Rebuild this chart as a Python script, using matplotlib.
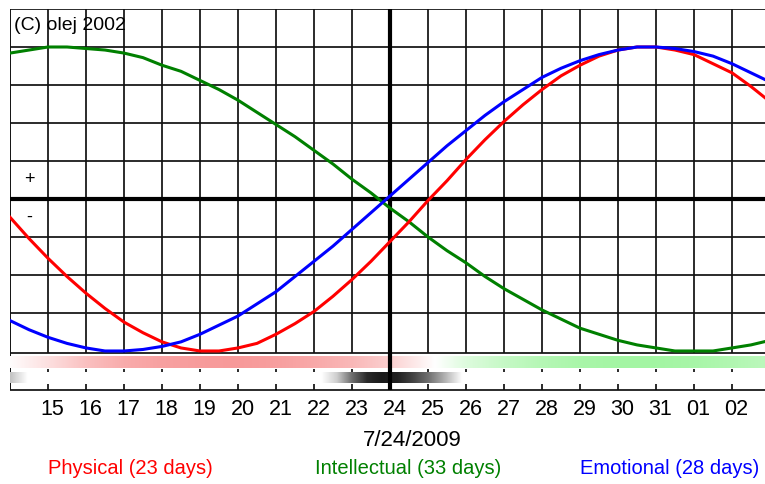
import numpy as np
import matplotlib.pyplot as plt

# day numbers with a grid line (july 14 .. aug 3)
grid_days = list(range(14, 35))
day_labels = ["15", "16", "17", "18", "19", "20", "21", "22", "23", "24",
              "25", "26", "27", "28", "29", "30", "31", "01", "02"]

# curve values every half day, 14.0 .. 34.0
t = np.arange(14, 34.5, 0.5)
physical = [-0.12, -0.26, -0.39, -0.51, -0.62, -0.72, -0.81, -0.88, -0.94, -0.98,
            -1.00, -1.00, -0.98, -0.95, -0.89, -0.82, -0.74, -0.64, -0.53, -0.41,
            -0.28, -0.15, -0.01, 0.12, 0.26, 0.39, 0.51, 0.62, 0.72, 0.81,
            0.88, 0.94, 0.98, 1.00, 1.00, 0.98, 0.95, 0.89, 0.83, 0.74, 0.64]
intellectual = [0.96, 0.98, 1.00, 1.00, 0.99, 0.98, 0.96, 0.93, 0.88, 0.84,
                0.78, 0.72, 0.65, 0.57, 0.49, 0.41, 0.32, 0.23, 0.13, 0.04,
                -0.06, -0.15, -0.25, -0.34, -0.42, -0.51, -0.59, -0.66, -0.73, -0.79,
                -0.85, -0.89, -0.93, -0.96, -0.98, -1.00, -1.00, -1.00, -0.98, -0.96, -0.93]
emotional = [-0.80, -0.86, -0.91, -0.95, -0.98, -1.00, -1.00, -0.99, -0.97, -0.94,
             -0.89, -0.83, -0.77, -0.69, -0.61, -0.51, -0.41, -0.31, -0.20, -0.09,
             0.02, 0.13, 0.24, 0.35, 0.45, 0.55, 0.64, 0.72, 0.80, 0.86,
             0.91, 0.95, 0.98, 1.00, 1.00, 0.99, 0.97, 0.94, 0.89, 0.83, 0.77]

# colour strip under the grid, one value per day (negative = pink, positive = green)
strip_level = [-0.03, -0.3, -0.6, -0.8, -0.9, -0.95, -0.97, -0.92, -0.82, -0.68,
               -0.45, -0.08, 0.35, 0.6, 0.78, 0.9, 0.96, 0.97, 0.92, 0.82, 0.7]

# critical days strip (darkness 0..1)
crit_days = [14.0, 14.45, 22.2, 22.6, 23.0, 23.4, 23.8, 24.2, 24.6, 25.0, 25.4, 25.9, 34.0]
crit_level = [0.25, 0.0, 0.0, 0.2, 0.6, 0.88, 0.95, 0.92, 0.78, 0.6, 0.35, 0.0, 0.0]

today = 24
xmax = 14 + 755 / 38.0

fig = plt.figure(figsize=(7.65, 4.84), dpi=100)
# axes goes from pixel row 9 down to the bottom line of the strips
ax = fig.add_axes([10 / 765, 1 - 390.5 / 484, 755 / 765, 381.5 / 484])
ax.set_xlim(14, xmax)
ax.set_ylim(-1.26, 1.25)
ax.axis("off")

# grid
grid_c = "#111111"
for v in [1.25, 1.0, 0.75, 0.5, 0.25, -0.25, -0.5, -0.75, -1.01]:
    ax.hlines(v, 14, xmax, color=grid_c, lw=1.25, zorder=1)
ax.hlines(0, 14, xmax, color="black", lw=3, zorder=2)
ax.hlines(-1.255, 14, xmax, color=grid_c, lw=1.25, zorder=1)
for d in grid_days[1:]:
    if d == today:
        continue
    ax.vlines(d, -1.01, 1.25, color=grid_c, lw=1.25, zorder=1)
    # little dashes in the strip area
    ax.vlines(d, -1.138, -1.118, color=grid_c, lw=1.25, zorder=1)
    ax.vlines(d, -1.255, -1.217, color=grid_c, lw=1.25, zorder=1)
ax.vlines(14, -1.255, 1.25, color=grid_c, lw=1.4, zorder=1)

# strips
xs = np.linspace(14, xmax, 900)
lv = np.interp(xs, grid_days, strip_level)
pink = np.array([247, 150, 150]) / 255.0
green = np.array([160, 245, 160]) / 255.0
img = np.ones((1, len(xs), 3))
for i, l in enumerate(lv):
    target = pink if l < 0 else green
    img[0, i] = 1 - abs(l) * (1 - target)
ax.imshow(img, extent=[14, xmax, -1.112, -1.039], aspect="auto", zorder=3,
          interpolation="bilinear")

cl = np.interp(xs, crit_days, crit_level)
img2 = np.ones((1, len(xs), 3))
for i, l in enumerate(cl):
    img2[0, i] = 1 - l * 0.95
ax.imshow(img2, extent=[14, xmax, -1.211, -1.145], aspect="auto", zorder=3,
          interpolation="bilinear")

ax.vlines(today, -1.255, 1.25, color="black", lw=3, zorder=4)

# the three cycles
ax.plot(t, intellectual, color="#008000", lw=2.2, zorder=5)
ax.plot(t, physical, color="#ff0000", lw=2.2, zorder=6)
ax.plot(t, emotional, color="#0000ff", lw=2.2, zorder=7)

# texts
font = "Liberation Sans"
ax.text(14.1, 1.14, "(C) olej 2002", fontsize=14, family=font, va="center", ha="left")
ax.text(14.5, 0.13, "+", fontsize=13, family=font, va="center", ha="center")
ax.text(14.5, -0.12, "-", fontsize=13, family=font, va="center", ha="center")
for d, lab in zip(grid_days[1:], day_labels):
    ax.text(d + 0.12, -1.388, lab, fontsize=15.5, family=font, ha="center", va="center",
            clip_on=False)

fig.text(412.5 / 765, 1 - 440 / 484, "7/24/2009", fontsize=16, family=font,
         ha="center", va="center")
fig.text(130 / 765, 1 - 468 / 484, "Physical (23 days)", fontsize=14.5, family=font,
         color="#ff0000", ha="center", va="center")
fig.text(408 / 765, 1 - 468 / 484, "Intellectual (33 days)", fontsize=14.5, family=font,
         color="#008000", ha="center", va="center")
fig.text(670 / 765, 1 - 468 / 484, "Emotional (28 days)", fontsize=14.5, family=font,
         color="#0000ff", ha="center", va="center")

plt.savefig("out.png", dpi=100)
